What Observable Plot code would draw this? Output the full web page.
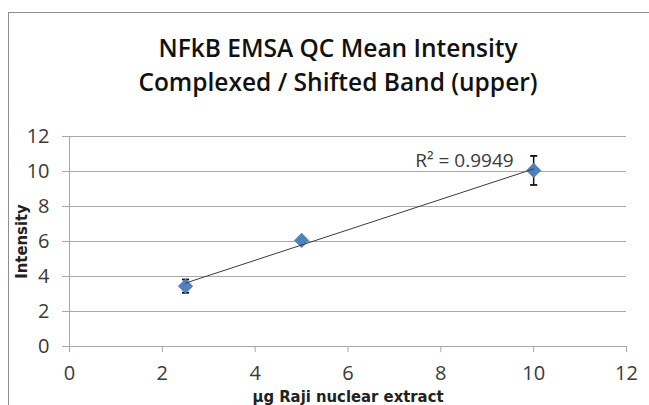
<!DOCTYPE html>
<html>
<head>
<meta charset="utf-8">
<script src="https://cdn.jsdelivr.net/npm/d3@7"></script>
<script src="https://cdn.jsdelivr.net/npm/@observablehq/plot@0.6"></script>
<style>
  html, body { margin: 0; padding: 0; background: #fff; }
  body { width: 649px; height: 405px; overflow: hidden; position: relative; }
  #frame { position: absolute; left: 8px; top: 12px; width: 720px; height: 520px; border: 1.5px solid #8f8f8f; box-sizing: border-box; }
  .tl { position: absolute; left: 28px; width: 620px; text-align: center; font-family: "Open Sans", sans-serif; font-weight: 600; font-size: 24.5px; color: #111; white-space: nowrap; }
  #chart { position: absolute; left: 0; top: 120px; }
</style>
</head>
<body>
<div id="frame"></div>
<div class="tl" style="top:31px">NFkB EMSA QC Mean Intensity</div>
<div class="tl" style="top:65px">Complexed / Shifted Band (upper)</div>
<div id="chart"></div>
<script>
const amounts = [2.5, 5, 10];            // µg Raji nuclear extract
const intensity = [3.45, 6.06, 10.06];   // mean intensity
const errors = [0.38, 0.15, 0.83];       // error bar half-length
const xTicks = [0, 2, 4, 6, 8, 10, 12];
const yTicks = [0, 2, 4, 6, 8, 10, 12];
const r2Label = "R² = 0.9949";
const xTitle = "µg Raji nuclear extract";
const yTitle = "Intensity";

const data = amounts.map((x, i) => ({x, y: intensity[i], lo: intensity[i] - errors[i], hi: intensity[i] + errors[i]}));
const last = data[data.length - 1];

const cap = {
  draw(ctx, size) {
    const w = Math.sqrt(size) / 2;
    ctx.moveTo(-w, 0);
    ctx.lineTo(w, 0);
  }
};

const grid = "#a8a8a8";
const labelFont = '"Liberation Sans Narrow", "DejaVu Sans Condensed", "Liberation Sans", sans-serif';

const chart = Plot.plot({
  width: 649,
  height: 285,
  marginLeft: 69,
  marginRight: 23,
  marginTop: 16,
  marginBottom: 59,
  style: { fontFamily: '"Open Sans", sans-serif', fontSize: "20px", background: "transparent", overflow: "visible" },
  x: { domain: [0, 12] },
  y: { domain: [0, 12] },
  marks: [
    Plot.gridY(yTicks, { stroke: grid, strokeOpacity: 1, strokeWidth: 1 }),
    Plot.ruleX([0], { stroke: grid, strokeWidth: 1 }),
    Plot.axisY(yTicks, { tickSize: 7, tickPadding: 13, stroke: grid, fill: "#3a3a3a", fontSize: 20, label: null }),
    Plot.axisX(xTicks, { tickSize: 6, tickPadding: 13, stroke: grid, fill: "#3a3a3a", fontSize: 20, label: null }),
    Plot.ruleX(data, { x: "x", y1: "lo", y2: "hi", stroke: "#111", strokeWidth: 1.5 }),
    Plot.dot(data, { x: "x", y: "lo", symbol: cap, r: 4, stroke: "#111", strokeWidth: 1.8, fill: "none" }),
    Plot.dot(data, { x: "x", y: "hi", symbol: cap, r: 4, stroke: "#111", strokeWidth: 1.8, fill: "none" }),
    Plot.dot(data, { x: "x", y: "y", symbol: "diamond2", r: 6.6, fill: "#4f81bd", stroke: "#4a7ab5", strokeWidth: 0.5 }),
    Plot.linearRegressionY(data, { x: "x", y: "y", ci: 0, stroke: "#3a3a3a", strokeWidth: 1 }),
    Plot.text([last], { x: "x", y: "y", text: () => r2Label, textAnchor: "end", dx: -20, dy: -10, fontSize: 19, fill: "#3a3a3a" }),
    Plot.text([xTitle], { frameAnchor: "bottom", lineAnchor: "bottom", dy: 55, fontSize: 16.5, fontWeight: "bold", fontFamily: labelFont, fill: "#222" }),
    Plot.text([yTitle], { frameAnchor: "left", textAnchor: "middle", dx: -48, rotate: -90, fontSize: 16.5, fontWeight: "bold", fontFamily: labelFont, fill: "#222" })
  ]
});
document.getElementById("chart").appendChild(chart);
</script>
</body>
</html>
